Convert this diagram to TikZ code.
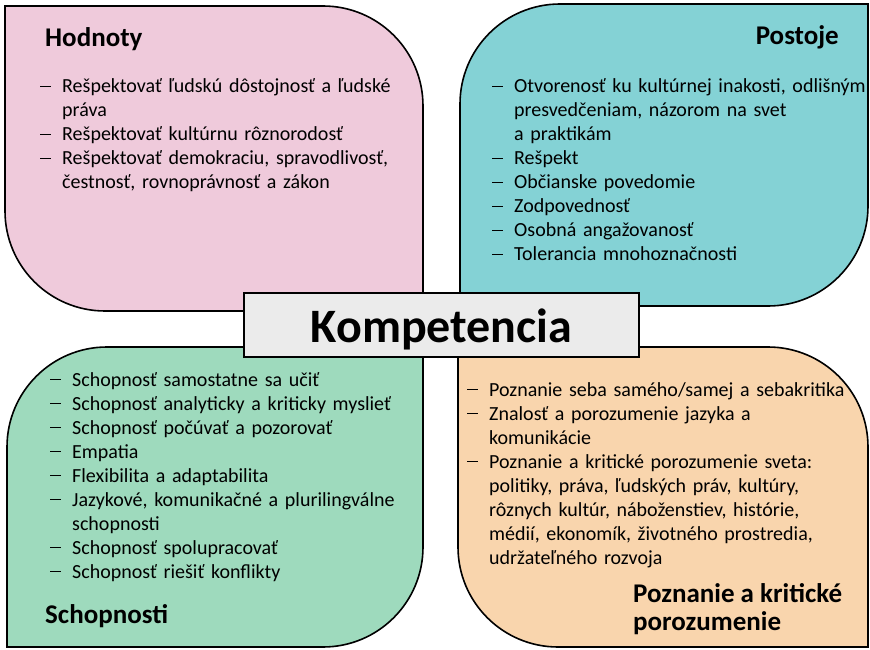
\documentclass[tikz,border=0pt]{standalone}
\usepackage{fontspec}
\setmainfont{Carlito}
\usetikzlibrary{positioning}

\definecolor{hodnotypink}{HTML}{EFCADB}
\definecolor{postojeteal}{HTML}{84D2D5}
\definecolor{schopnostigreen}{HTML}{9EDABD}
\definecolor{poznanieorange}{HTML}{F9D5AD}
\definecolor{kompgray}{HTML}{EBEBEB}

% one dash item with hanging indent
\newcommand{\bod}[1]{\hangindent=22pt\hangafter=1\makebox[22pt][l]{\rule[5.8pt]{10.5pt}{1.3pt}}#1\par}

\begin{document}
\begin{tikzpicture}[x=1pt,y=1pt,
    blob/.style={draw=black, line width=1.6pt},
    heading/.style={font=\fontsize{27}{28}\selectfont\bfseries, inner sep=0pt, align=left},
    itemlist/.style={font=\fontsize{20}{24}\selectfont, text width=#1, align=left, inner sep=0pt, anchor=base west}]
    \useasboundingbox (0,0) rectangle (870,649);

    % Hodnoty
    \draw[blob, fill=hodnotypink] (5,643) -- (323,643) arc[start angle=90, end angle=0, radius=100]
        -- (423,338) -- (105,338) arc[start angle=270, end angle=180, radius=100] -- cycle;
    \node[heading, anchor=base west] (hodnoty) at (45,602) {Hodnoty};
    \node[itemlist=400pt] (hodnotylist) at (40,556) {%
        \bod{Rešpektovať ľudskú dôstojnosť a ľudské\newline práva}
        \bod{Rešpektovať kultúrnu rôznorodosť}
        \bod{Rešpektovať demokraciu, spravodlivosť,\newline čestnosť, rovnoprávnosť a zákon}};

    % Postoje
    \draw[blob, fill=postojeteal] (868,645) -- (560,645) arc[start angle=90, end angle=180, radius=100]
        -- (460,343) -- (768,343) arc[start angle=270, end angle=360, radius=100] -- cycle;
    \node[heading, anchor=base east] (postoje) at (839,604) {Postoje};
    \node[itemlist=400pt] (postojelist) at (492,556) {%
        \bod{Otvorenosť ku kultúrnej inakosti, odlišným\newline presvedčeniam, názorom na svet\newline a praktikám}
        \bod{Rešpekt}
        \bod{Občianske povedomie}
        \bod{Zodpovednosť}
        \bod{Osobná angažovanosť}
        \bod{Tolerancia mnohoznačnosti}};

    % Schopnosti
    \draw[blob, fill=schopnostigreen] (423,302) -- (107,302) arc[start angle=90, end angle=180, radius=100]
        -- (7,2) -- (323,2) arc[start angle=270, end angle=360, radius=100] -- cycle;
    \node[itemlist=400pt] (schopnostilist) at (50,263) {%
        \bod{Schopnosť samostatne sa učiť}
        \bod{Schopnosť analyticky a kriticky myslieť}
        \bod{Schopnosť počúvať a pozorovať}
        \bod{Empatia}
        \bod{Flexibilita a adaptabilita}
        \bod{Jazykové, komunikačné a plurilingválne\newline schopnosti}
        \bod{Schopnosť spolupracovať}
        \bod{Schopnosť riešiť konflikty}};
    \node[heading, anchor=base west] (schopnosti) at (45,26) {Schopnosti};

    % Poznanie a kriticke porozumenie
    \draw[blob, fill=poznanieorange] (458,302) -- (768,302) arc[start angle=90, end angle=0, radius=100]
        -- (868,2) -- (558,2) arc[start angle=270, end angle=180, radius=100] -- cycle;
    \node[itemlist=400pt] (poznanielist) at (467,253) {%
        \bod{Poznanie seba samého/samej a sebakritika}
        \bod{Znalosť a porozumenie jazyka a\newline komunikácie}
        \bod{Poznanie a kritické porozumenie sveta:\newline politiky, práva, ľudských práv, kultúry,\newline rôznych kultúr, náboženstiev, histórie,\newline médií, ekonomík, životného prostredia,\newline udržateľného rozvoja}};
    % base anchor sits on the second line here
    \node[heading, anchor=base west] (poznanie) at (633,19) {Poznanie a kritické\\porozumenie};

    % Kompetencia
    \node[draw=black, line width=1.2pt, fill=kompgray, minimum width=395pt, minimum height=64pt,
        inner sep=0pt, font=\fontsize{48}{56}\selectfont\bfseries, text height=40pt, text depth=6pt]
        (komp) at (441.5,324) {Kompetencia};
\end{tikzpicture}
\end{document}
